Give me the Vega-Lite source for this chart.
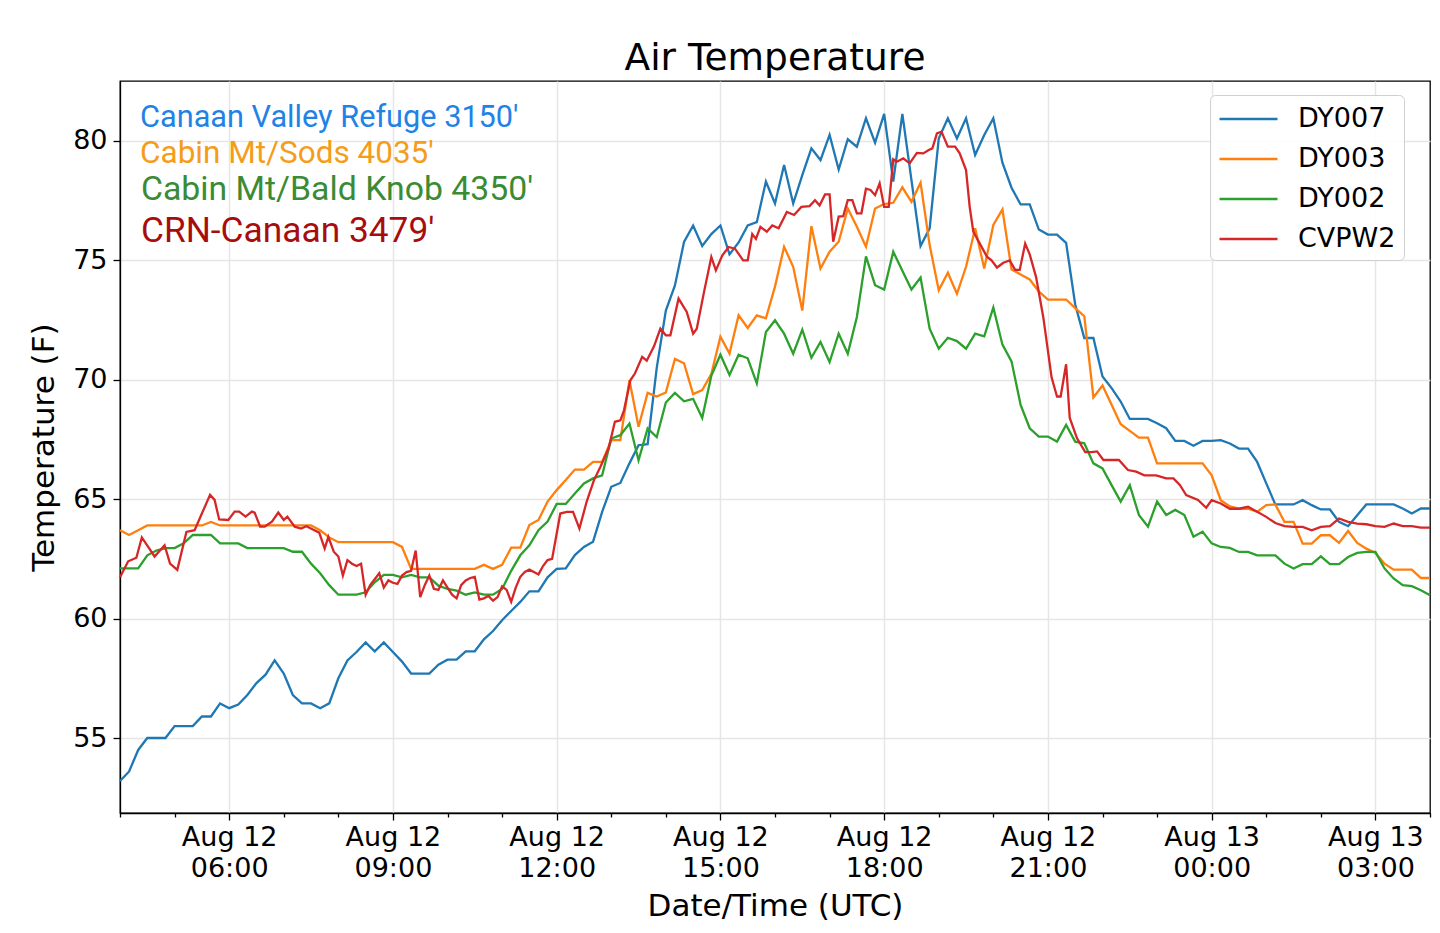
{
"$schema":"https://vega.github.io/schema/vega-lite/v6.json",
"width":1310,"height":732,
"autosize":"none",
"padding":{"left":120,"top":81,"right":10,"bottom":120},
"background":"white",
"title":{"text":"Air Temperature","font":"DejaVu Sans","fontSize":37.5,"fontWeight":"normal","color":"#000","offset":4,"anchor":"middle"},
"config":{"view":{"stroke":"#000","strokeWidth":1.3}},
"datasets":{"obs":[
{"station":"DY007","time":"2019-08-12T04:00Z","temp":53.2},{"station":"DY007","time":"2019-08-12T04:10Z","temp":53.6},{"station":"DY007","time":"2019-08-12T04:20Z","temp":54.5},{"station":"DY007","time":"2019-08-12T04:30Z","temp":55.0},{"station":"DY007","time":"2019-08-12T04:40Z","temp":55.0},{"station":"DY007","time":"2019-08-12T04:50Z","temp":55.0},
{"station":"DY007","time":"2019-08-12T05:00Z","temp":55.5},{"station":"DY007","time":"2019-08-12T05:10Z","temp":55.5},{"station":"DY007","time":"2019-08-12T05:20Z","temp":55.5},{"station":"DY007","time":"2019-08-12T05:30Z","temp":55.9},{"station":"DY007","time":"2019-08-12T05:40Z","temp":55.9},{"station":"DY007","time":"2019-08-12T05:50Z","temp":56.45},
{"station":"DY007","time":"2019-08-12T06:00Z","temp":56.25},{"station":"DY007","time":"2019-08-12T06:10Z","temp":56.4},{"station":"DY007","time":"2019-08-12T06:20Z","temp":56.8},{"station":"DY007","time":"2019-08-12T06:30Z","temp":57.3},{"station":"DY007","time":"2019-08-12T06:40Z","temp":57.65},{"station":"DY007","time":"2019-08-12T06:50Z","temp":58.25},
{"station":"DY007","time":"2019-08-12T07:00Z","temp":57.7},{"station":"DY007","time":"2019-08-12T07:10Z","temp":56.8},{"station":"DY007","time":"2019-08-12T07:20Z","temp":56.45},{"station":"DY007","time":"2019-08-12T07:30Z","temp":56.45},{"station":"DY007","time":"2019-08-12T07:40Z","temp":56.25},{"station":"DY007","time":"2019-08-12T07:50Z","temp":56.45},
{"station":"DY007","time":"2019-08-12T08:00Z","temp":57.5},{"station":"DY007","time":"2019-08-12T08:10Z","temp":58.25},{"station":"DY007","time":"2019-08-12T08:20Z","temp":58.6},{"station":"DY007","time":"2019-08-12T08:30Z","temp":59.0},{"station":"DY007","time":"2019-08-12T08:40Z","temp":58.63},{"station":"DY007","time":"2019-08-12T08:50Z","temp":59.0},
{"station":"DY007","time":"2019-08-12T09:00Z","temp":58.6},{"station":"DY007","time":"2019-08-12T09:10Z","temp":58.2},{"station":"DY007","time":"2019-08-12T09:20Z","temp":57.7},{"station":"DY007","time":"2019-08-12T09:30Z","temp":57.7},{"station":"DY007","time":"2019-08-12T09:40Z","temp":57.7},{"station":"DY007","time":"2019-08-12T09:50Z","temp":58.07},
{"station":"DY007","time":"2019-08-12T10:00Z","temp":58.28},{"station":"DY007","time":"2019-08-12T10:10Z","temp":58.28},{"station":"DY007","time":"2019-08-12T10:20Z","temp":58.63},{"station":"DY007","time":"2019-08-12T10:30Z","temp":58.63},{"station":"DY007","time":"2019-08-12T10:40Z","temp":59.13},{"station":"DY007","time":"2019-08-12T10:50Z","temp":59.48},
{"station":"DY007","time":"2019-08-12T11:00Z","temp":59.93},{"station":"DY007","time":"2019-08-12T11:10Z","temp":60.32},{"station":"DY007","time":"2019-08-12T11:20Z","temp":60.7},{"station":"DY007","time":"2019-08-12T11:30Z","temp":61.14},{"station":"DY007","time":"2019-08-12T11:40Z","temp":61.14},{"station":"DY007","time":"2019-08-12T11:50Z","temp":61.73},
{"station":"DY007","time":"2019-08-12T12:00Z","temp":62.08},{"station":"DY007","time":"2019-08-12T12:10Z","temp":62.1},{"station":"DY007","time":"2019-08-12T12:20Z","temp":62.66},{"station":"DY007","time":"2019-08-12T12:30Z","temp":63.0},{"station":"DY007","time":"2019-08-12T12:40Z","temp":63.22},{"station":"DY007","time":"2019-08-12T12:50Z","temp":64.47},
{"station":"DY007","time":"2019-08-12T13:00Z","temp":65.52},{"station":"DY007","time":"2019-08-12T13:10Z","temp":65.68},{"station":"DY007","time":"2019-08-12T13:20Z","temp":66.5},{"station":"DY007","time":"2019-08-12T13:30Z","temp":67.26},{"station":"DY007","time":"2019-08-12T13:40Z","temp":67.3},{"station":"DY007","time":"2019-08-12T13:50Z","temp":70.5},
{"station":"DY007","time":"2019-08-12T14:00Z","temp":72.9},{"station":"DY007","time":"2019-08-12T14:10Z","temp":73.95},{"station":"DY007","time":"2019-08-12T14:20Z","temp":75.77},{"station":"DY007","time":"2019-08-12T14:30Z","temp":76.46},{"station":"DY007","time":"2019-08-12T14:40Z","temp":75.6},{"station":"DY007","time":"2019-08-12T14:50Z","temp":76.1},
{"station":"DY007","time":"2019-08-12T15:00Z","temp":76.46},{"station":"DY007","time":"2019-08-12T15:10Z","temp":75.25},{"station":"DY007","time":"2019-08-12T15:20Z","temp":75.75},{"station":"DY007","time":"2019-08-12T15:30Z","temp":76.46},{"station":"DY007","time":"2019-08-12T15:40Z","temp":76.6},{"station":"DY007","time":"2019-08-12T15:50Z","temp":78.3},
{"station":"DY007","time":"2019-08-12T16:00Z","temp":77.38},{"station":"DY007","time":"2019-08-12T16:10Z","temp":78.99},{"station":"DY007","time":"2019-08-12T16:20Z","temp":77.38},{"station":"DY007","time":"2019-08-12T16:30Z","temp":78.57},{"station":"DY007","time":"2019-08-12T16:40Z","temp":79.69},{"station":"DY007","time":"2019-08-12T16:50Z","temp":79.2},
{"station":"DY007","time":"2019-08-12T17:00Z","temp":80.25},{"station":"DY007","time":"2019-08-12T17:10Z","temp":78.8},{"station":"DY007","time":"2019-08-12T17:20Z","temp":80.07},{"station":"DY007","time":"2019-08-12T17:30Z","temp":79.76},{"station":"DY007","time":"2019-08-12T17:40Z","temp":80.95},{"station":"DY007","time":"2019-08-12T17:50Z","temp":79.93},
{"station":"DY007","time":"2019-08-12T18:00Z","temp":81.13},{"station":"DY007","time":"2019-08-12T18:10Z","temp":78.3},{"station":"DY007","time":"2019-08-12T18:20Z","temp":81.13},{"station":"DY007","time":"2019-08-12T18:30Z","temp":78.36},{"station":"DY007","time":"2019-08-12T18:40Z","temp":75.6},{"station":"DY007","time":"2019-08-12T18:50Z","temp":76.34},
{"station":"DY007","time":"2019-08-12T19:00Z","temp":80.1},{"station":"DY007","time":"2019-08-12T19:10Z","temp":80.95},{"station":"DY007","time":"2019-08-12T19:20Z","temp":80.1},{"station":"DY007","time":"2019-08-12T19:30Z","temp":80.95},{"station":"DY007","time":"2019-08-12T19:40Z","temp":79.41},{"station":"DY007","time":"2019-08-12T19:50Z","temp":80.25},
{"station":"DY007","time":"2019-08-12T20:00Z","temp":80.95},{"station":"DY007","time":"2019-08-12T20:10Z","temp":79.09},{"station":"DY007","time":"2019-08-12T20:20Z","temp":78.04},{"station":"DY007","time":"2019-08-12T20:30Z","temp":77.34},{"station":"DY007","time":"2019-08-12T20:40Z","temp":77.34},{"station":"DY007","time":"2019-08-12T20:50Z","temp":76.29},
{"station":"DY007","time":"2019-08-12T21:00Z","temp":76.08},{"station":"DY007","time":"2019-08-12T21:10Z","temp":76.08},{"station":"DY007","time":"2019-08-12T21:20Z","temp":75.73},{"station":"DY007","time":"2019-08-12T21:30Z","temp":73.15},{"station":"DY007","time":"2019-08-12T21:40Z","temp":71.75},{"station":"DY007","time":"2019-08-12T21:50Z","temp":71.75},
{"station":"DY007","time":"2019-08-12T22:00Z","temp":70.14},{"station":"DY007","time":"2019-08-12T22:10Z","temp":69.65},{"station":"DY007","time":"2019-08-12T22:20Z","temp":69.09},{"station":"DY007","time":"2019-08-12T22:30Z","temp":68.36},{"station":"DY007","time":"2019-08-12T22:40Z","temp":68.36},{"station":"DY007","time":"2019-08-12T22:50Z","temp":68.36},
{"station":"DY007","time":"2019-08-12T23:00Z","temp":68.18},{"station":"DY007","time":"2019-08-12T23:10Z","temp":67.97},{"station":"DY007","time":"2019-08-12T23:20Z","temp":67.44},{"station":"DY007","time":"2019-08-12T23:30Z","temp":67.44},{"station":"DY007","time":"2019-08-12T23:40Z","temp":67.24},{"station":"DY007","time":"2019-08-12T23:50Z","temp":67.44},
{"station":"DY007","time":"2019-08-13T00:00Z","temp":67.44},{"station":"DY007","time":"2019-08-13T00:10Z","temp":67.47},{"station":"DY007","time":"2019-08-13T00:20Z","temp":67.33},{"station":"DY007","time":"2019-08-13T00:30Z","temp":67.12},{"station":"DY007","time":"2019-08-13T00:40Z","temp":67.12},{"station":"DY007","time":"2019-08-13T00:50Z","temp":66.56},
{"station":"DY007","time":"2019-08-13T01:00Z","temp":65.66},{"station":"DY007","time":"2019-08-13T01:10Z","temp":64.78},{"station":"DY007","time":"2019-08-13T01:20Z","temp":64.78},{"station":"DY007","time":"2019-08-13T01:30Z","temp":64.78},{"station":"DY007","time":"2019-08-13T01:40Z","temp":64.96},{"station":"DY007","time":"2019-08-13T01:50Z","temp":64.75},
{"station":"DY007","time":"2019-08-13T02:00Z","temp":64.57},{"station":"DY007","time":"2019-08-13T02:10Z","temp":64.57},{"station":"DY007","time":"2019-08-13T02:20Z","temp":64.05},{"station":"DY007","time":"2019-08-13T02:30Z","temp":63.87},{"station":"DY007","time":"2019-08-13T02:40Z","temp":64.33},{"station":"DY007","time":"2019-08-13T02:50Z","temp":64.78},
{"station":"DY007","time":"2019-08-13T03:00Z","temp":64.78},{"station":"DY007","time":"2019-08-13T03:10Z","temp":64.78},{"station":"DY007","time":"2019-08-13T03:20Z","temp":64.78},{"station":"DY007","time":"2019-08-13T03:30Z","temp":64.61},{"station":"DY007","time":"2019-08-13T03:40Z","temp":64.4},{"station":"DY007","time":"2019-08-13T03:50Z","temp":64.61},
{"station":"DY007","time":"2019-08-13T04:00Z","temp":64.61},
{"station":"DY003","time":"2019-08-12T04:00Z","temp":63.7},{"station":"DY003","time":"2019-08-12T04:10Z","temp":63.5},{"station":"DY003","time":"2019-08-12T04:20Z","temp":63.7},{"station":"DY003","time":"2019-08-12T04:30Z","temp":63.9},{"station":"DY003","time":"2019-08-12T04:40Z","temp":63.9},{"station":"DY003","time":"2019-08-12T04:50Z","temp":63.9},
{"station":"DY003","time":"2019-08-12T05:00Z","temp":63.9},{"station":"DY003","time":"2019-08-12T05:10Z","temp":63.9},{"station":"DY003","time":"2019-08-12T05:20Z","temp":63.9},{"station":"DY003","time":"2019-08-12T05:30Z","temp":63.9},{"station":"DY003","time":"2019-08-12T05:40Z","temp":64.05},{"station":"DY003","time":"2019-08-12T05:50Z","temp":63.9},
{"station":"DY003","time":"2019-08-12T06:00Z","temp":63.9},{"station":"DY003","time":"2019-08-12T06:10Z","temp":63.9},{"station":"DY003","time":"2019-08-12T06:20Z","temp":63.9},{"station":"DY003","time":"2019-08-12T06:30Z","temp":63.9},{"station":"DY003","time":"2019-08-12T06:40Z","temp":63.9},{"station":"DY003","time":"2019-08-12T06:50Z","temp":63.9},
{"station":"DY003","time":"2019-08-12T07:00Z","temp":63.9},{"station":"DY003","time":"2019-08-12T07:10Z","temp":63.9},{"station":"DY003","time":"2019-08-12T07:20Z","temp":63.9},{"station":"DY003","time":"2019-08-12T07:30Z","temp":63.9},{"station":"DY003","time":"2019-08-12T07:40Z","temp":63.7},{"station":"DY003","time":"2019-08-12T07:50Z","temp":63.4},
{"station":"DY003","time":"2019-08-12T08:00Z","temp":63.2},{"station":"DY003","time":"2019-08-12T08:10Z","temp":63.2},{"station":"DY003","time":"2019-08-12T08:20Z","temp":63.2},{"station":"DY003","time":"2019-08-12T08:30Z","temp":63.2},{"station":"DY003","time":"2019-08-12T08:40Z","temp":63.2},{"station":"DY003","time":"2019-08-12T08:50Z","temp":63.2},
{"station":"DY003","time":"2019-08-12T09:00Z","temp":63.2},{"station":"DY003","time":"2019-08-12T09:10Z","temp":63.0},{"station":"DY003","time":"2019-08-12T09:20Z","temp":62.08},{"station":"DY003","time":"2019-08-12T09:30Z","temp":62.08},{"station":"DY003","time":"2019-08-12T09:40Z","temp":62.08},{"station":"DY003","time":"2019-08-12T09:50Z","temp":62.08},
{"station":"DY003","time":"2019-08-12T10:00Z","temp":62.08},{"station":"DY003","time":"2019-08-12T10:10Z","temp":62.08},{"station":"DY003","time":"2019-08-12T10:20Z","temp":62.08},{"station":"DY003","time":"2019-08-12T10:30Z","temp":62.08},{"station":"DY003","time":"2019-08-12T10:40Z","temp":62.25},{"station":"DY003","time":"2019-08-12T10:50Z","temp":62.08},
{"station":"DY003","time":"2019-08-12T11:00Z","temp":62.25},{"station":"DY003","time":"2019-08-12T11:10Z","temp":62.97},{"station":"DY003","time":"2019-08-12T11:20Z","temp":62.97},{"station":"DY003","time":"2019-08-12T11:30Z","temp":63.92},{"station":"DY003","time":"2019-08-12T11:40Z","temp":64.13},{"station":"DY003","time":"2019-08-12T11:50Z","temp":64.9},
{"station":"DY003","time":"2019-08-12T12:00Z","temp":65.38},{"station":"DY003","time":"2019-08-12T12:10Z","temp":65.8},{"station":"DY003","time":"2019-08-12T12:20Z","temp":66.24},{"station":"DY003","time":"2019-08-12T12:30Z","temp":66.24},{"station":"DY003","time":"2019-08-12T12:40Z","temp":66.56},{"station":"DY003","time":"2019-08-12T12:50Z","temp":66.56},
{"station":"DY003","time":"2019-08-12T13:00Z","temp":67.47},{"station":"DY003","time":"2019-08-12T13:10Z","temp":67.47},{"station":"DY003","time":"2019-08-12T13:20Z","temp":69.98},{"station":"DY003","time":"2019-08-12T13:30Z","temp":68.03},{"station":"DY003","time":"2019-08-12T13:40Z","temp":69.45},{"station":"DY003","time":"2019-08-12T13:50Z","temp":69.3},
{"station":"DY003","time":"2019-08-12T14:00Z","temp":69.47},{"station":"DY003","time":"2019-08-12T14:10Z","temp":70.87},{"station":"DY003","time":"2019-08-12T14:20Z","temp":70.69},{"station":"DY003","time":"2019-08-12T14:30Z","temp":69.4},{"station":"DY003","time":"2019-08-12T14:40Z","temp":69.57},{"station":"DY003","time":"2019-08-12T14:50Z","temp":70.24},
{"station":"DY003","time":"2019-08-12T15:00Z","temp":71.8},{"station":"DY003","time":"2019-08-12T15:10Z","temp":71.1},{"station":"DY003","time":"2019-08-12T15:20Z","temp":72.7},{"station":"DY003","time":"2019-08-12T15:30Z","temp":72.17},{"station":"DY003","time":"2019-08-12T15:40Z","temp":72.7},{"station":"DY003","time":"2019-08-12T15:50Z","temp":72.57},
{"station":"DY003","time":"2019-08-12T16:00Z","temp":73.9},{"station":"DY003","time":"2019-08-12T16:10Z","temp":75.57},{"station":"DY003","time":"2019-08-12T16:20Z","temp":74.73},{"station":"DY003","time":"2019-08-12T16:30Z","temp":72.9},{"station":"DY003","time":"2019-08-12T16:40Z","temp":76.43},{"station":"DY003","time":"2019-08-12T16:50Z","temp":74.66},
{"station":"DY003","time":"2019-08-12T17:00Z","temp":75.36},{"station":"DY003","time":"2019-08-12T17:10Z","temp":75.78},{"station":"DY003","time":"2019-08-12T17:20Z","temp":77.17},{"station":"DY003","time":"2019-08-12T17:30Z","temp":76.41},{"station":"DY003","time":"2019-08-12T17:40Z","temp":75.57},{"station":"DY003","time":"2019-08-12T17:50Z","temp":77.17},
{"station":"DY003","time":"2019-08-12T18:00Z","temp":77.36},{"station":"DY003","time":"2019-08-12T18:10Z","temp":77.41},{"station":"DY003","time":"2019-08-12T18:20Z","temp":78.06},{"station":"DY003","time":"2019-08-12T18:30Z","temp":77.45},{"station":"DY003","time":"2019-08-12T18:40Z","temp":78.25},{"station":"DY003","time":"2019-08-12T18:50Z","temp":75.64},
{"station":"DY003","time":"2019-08-12T19:00Z","temp":73.75},{"station":"DY003","time":"2019-08-12T19:10Z","temp":74.48},{"station":"DY003","time":"2019-08-12T19:20Z","temp":73.6},{"station":"DY003","time":"2019-08-12T19:30Z","temp":74.73},{"station":"DY003","time":"2019-08-12T19:40Z","temp":76.34},{"station":"DY003","time":"2019-08-12T19:50Z","temp":74.66},
{"station":"DY003","time":"2019-08-12T20:00Z","temp":76.48},{"station":"DY003","time":"2019-08-12T20:10Z","temp":77.13},{"station":"DY003","time":"2019-08-12T20:20Z","temp":74.62},{"station":"DY003","time":"2019-08-12T20:30Z","temp":74.41},{"station":"DY003","time":"2019-08-12T20:40Z","temp":74.2},{"station":"DY003","time":"2019-08-12T20:50Z","temp":73.7},
{"station":"DY003","time":"2019-08-12T21:00Z","temp":73.36},{"station":"DY003","time":"2019-08-12T21:10Z","temp":73.36},{"station":"DY003","time":"2019-08-12T21:20Z","temp":73.36},{"station":"DY003","time":"2019-08-12T21:30Z","temp":73.0},{"station":"DY003","time":"2019-08-12T21:40Z","temp":72.66},{"station":"DY003","time":"2019-08-12T21:50Z","temp":69.26},
{"station":"DY003","time":"2019-08-12T22:00Z","temp":69.76},{"station":"DY003","time":"2019-08-12T22:10Z","temp":68.95},{"station":"DY003","time":"2019-08-12T22:20Z","temp":68.14},{"station":"DY003","time":"2019-08-12T22:30Z","temp":67.86},{"station":"DY003","time":"2019-08-12T22:40Z","temp":67.58},{"station":"DY003","time":"2019-08-12T22:50Z","temp":67.58},
{"station":"DY003","time":"2019-08-12T23:00Z","temp":66.5},{"station":"DY003","time":"2019-08-12T23:10Z","temp":66.5},{"station":"DY003","time":"2019-08-12T23:20Z","temp":66.5},{"station":"DY003","time":"2019-08-12T23:30Z","temp":66.5},{"station":"DY003","time":"2019-08-12T23:40Z","temp":66.5},{"station":"DY003","time":"2019-08-12T23:50Z","temp":66.5},
{"station":"DY003","time":"2019-08-13T00:00Z","temp":66.0},{"station":"DY003","time":"2019-08-13T00:10Z","temp":64.96},{"station":"DY003","time":"2019-08-13T00:20Z","temp":64.7},{"station":"DY003","time":"2019-08-13T00:30Z","temp":64.6},{"station":"DY003","time":"2019-08-13T00:40Z","temp":64.6},{"station":"DY003","time":"2019-08-13T00:50Z","temp":64.47},
{"station":"DY003","time":"2019-08-13T01:00Z","temp":64.75},{"station":"DY003","time":"2019-08-13T01:10Z","temp":64.78},{"station":"DY003","time":"2019-08-13T01:20Z","temp":64.05},{"station":"DY003","time":"2019-08-13T01:30Z","temp":64.05},{"station":"DY003","time":"2019-08-13T01:40Z","temp":63.14},{"station":"DY003","time":"2019-08-13T01:50Z","temp":63.14},
{"station":"DY003","time":"2019-08-13T02:00Z","temp":63.49},{"station":"DY003","time":"2019-08-13T02:10Z","temp":63.49},{"station":"DY003","time":"2019-08-13T02:20Z","temp":63.17},{"station":"DY003","time":"2019-08-13T02:30Z","temp":63.67},{"station":"DY003","time":"2019-08-13T02:40Z","temp":63.17},{"station":"DY003","time":"2019-08-13T02:50Z","temp":62.93},
{"station":"DY003","time":"2019-08-13T03:00Z","temp":62.75},{"station":"DY003","time":"2019-08-13T03:10Z","temp":62.3},{"station":"DY003","time":"2019-08-13T03:20Z","temp":62.05},{"station":"DY003","time":"2019-08-13T03:30Z","temp":62.05},{"station":"DY003","time":"2019-08-13T03:40Z","temp":62.05},{"station":"DY003","time":"2019-08-13T03:50Z","temp":61.7},
{"station":"DY003","time":"2019-08-13T04:00Z","temp":61.7},
{"station":"DY002","time":"2019-08-12T04:00Z","temp":62.1},{"station":"DY002","time":"2019-08-12T04:10Z","temp":62.1},{"station":"DY002","time":"2019-08-12T04:20Z","temp":62.1},{"station":"DY002","time":"2019-08-12T04:30Z","temp":62.65},{"station":"DY002","time":"2019-08-12T04:40Z","temp":62.85},{"station":"DY002","time":"2019-08-12T04:50Z","temp":62.95},
{"station":"DY002","time":"2019-08-12T05:00Z","temp":62.95},{"station":"DY002","time":"2019-08-12T05:10Z","temp":63.15},{"station":"DY002","time":"2019-08-12T05:20Z","temp":63.5},{"station":"DY002","time":"2019-08-12T05:30Z","temp":63.5},{"station":"DY002","time":"2019-08-12T05:40Z","temp":63.5},{"station":"DY002","time":"2019-08-12T05:50Z","temp":63.15},
{"station":"DY002","time":"2019-08-12T06:00Z","temp":63.15},{"station":"DY002","time":"2019-08-12T06:10Z","temp":63.15},{"station":"DY002","time":"2019-08-12T06:20Z","temp":62.95},{"station":"DY002","time":"2019-08-12T06:30Z","temp":62.95},{"station":"DY002","time":"2019-08-12T06:40Z","temp":62.95},{"station":"DY002","time":"2019-08-12T06:50Z","temp":62.95},
{"station":"DY002","time":"2019-08-12T07:00Z","temp":62.95},{"station":"DY002","time":"2019-08-12T07:10Z","temp":62.8},{"station":"DY002","time":"2019-08-12T07:20Z","temp":62.8},{"station":"DY002","time":"2019-08-12T07:30Z","temp":62.3},{"station":"DY002","time":"2019-08-12T07:40Z","temp":61.9},{"station":"DY002","time":"2019-08-12T07:50Z","temp":61.4},
{"station":"DY002","time":"2019-08-12T08:00Z","temp":61.0},{"station":"DY002","time":"2019-08-12T08:10Z","temp":61.0},{"station":"DY002","time":"2019-08-12T08:20Z","temp":61.0},{"station":"DY002","time":"2019-08-12T08:30Z","temp":61.1},{"station":"DY002","time":"2019-08-12T08:40Z","temp":61.52},{"station":"DY002","time":"2019-08-12T08:50Z","temp":61.83},
{"station":"DY002","time":"2019-08-12T09:00Z","temp":61.83},{"station":"DY002","time":"2019-08-12T09:10Z","temp":61.73},{"station":"DY002","time":"2019-08-12T09:20Z","temp":61.83},{"station":"DY002","time":"2019-08-12T09:30Z","temp":61.73},{"station":"DY002","time":"2019-08-12T09:40Z","temp":61.73},{"station":"DY002","time":"2019-08-12T09:50Z","temp":61.38},
{"station":"DY002","time":"2019-08-12T10:00Z","temp":61.24},{"station":"DY002","time":"2019-08-12T10:10Z","temp":61.17},{"station":"DY002","time":"2019-08-12T10:20Z","temp":61.0},{"station":"DY002","time":"2019-08-12T10:30Z","temp":61.1},{"station":"DY002","time":"2019-08-12T10:40Z","temp":61.0},{"station":"DY002","time":"2019-08-12T10:50Z","temp":61.0},
{"station":"DY002","time":"2019-08-12T11:00Z","temp":61.24},{"station":"DY002","time":"2019-08-12T11:10Z","temp":62.0},{"station":"DY002","time":"2019-08-12T11:20Z","temp":62.65},{"station":"DY002","time":"2019-08-12T11:30Z","temp":63.07},{"station":"DY002","time":"2019-08-12T11:40Z","temp":63.7},{"station":"DY002","time":"2019-08-12T11:50Z","temp":64.06},
{"station":"DY002","time":"2019-08-12T12:00Z","temp":64.8},{"station":"DY002","time":"2019-08-12T12:10Z","temp":64.8},{"station":"DY002","time":"2019-08-12T12:20Z","temp":65.24},{"station":"DY002","time":"2019-08-12T12:30Z","temp":65.66},{"station":"DY002","time":"2019-08-12T12:40Z","temp":65.87},{"station":"DY002","time":"2019-08-12T12:50Z","temp":66.0},
{"station":"DY002","time":"2019-08-12T13:00Z","temp":67.54},{"station":"DY002","time":"2019-08-12T13:10Z","temp":67.68},{"station":"DY002","time":"2019-08-12T13:20Z","temp":68.17},{"station":"DY002","time":"2019-08-12T13:30Z","temp":66.63},{"station":"DY002","time":"2019-08-12T13:40Z","temp":67.96},{"station":"DY002","time":"2019-08-12T13:50Z","temp":67.6},
{"station":"DY002","time":"2019-08-12T14:00Z","temp":69.05},{"station":"DY002","time":"2019-08-12T14:10Z","temp":69.45},{"station":"DY002","time":"2019-08-12T14:20Z","temp":69.1},{"station":"DY002","time":"2019-08-12T14:30Z","temp":69.2},{"station":"DY002","time":"2019-08-12T14:40Z","temp":68.4},{"station":"DY002","time":"2019-08-12T14:50Z","temp":70.17},
{"station":"DY002","time":"2019-08-12T15:00Z","temp":71.05},{"station":"DY002","time":"2019-08-12T15:10Z","temp":70.2},{"station":"DY002","time":"2019-08-12T15:20Z","temp":71.05},{"station":"DY002","time":"2019-08-12T15:30Z","temp":70.9},{"station":"DY002","time":"2019-08-12T15:40Z","temp":69.85},{"station":"DY002","time":"2019-08-12T15:50Z","temp":72.0},
{"station":"DY002","time":"2019-08-12T16:00Z","temp":72.49},{"station":"DY002","time":"2019-08-12T16:10Z","temp":71.93},{"station":"DY002","time":"2019-08-12T16:20Z","temp":71.09},{"station":"DY002","time":"2019-08-12T16:30Z","temp":72.1},{"station":"DY002","time":"2019-08-12T16:40Z","temp":70.92},{"station":"DY002","time":"2019-08-12T16:50Z","temp":71.58},
{"station":"DY002","time":"2019-08-12T17:00Z","temp":70.74},{"station":"DY002","time":"2019-08-12T17:10Z","temp":71.93},{"station":"DY002","time":"2019-08-12T17:20Z","temp":71.09},{"station":"DY002","time":"2019-08-12T17:30Z","temp":72.63},{"station":"DY002","time":"2019-08-12T17:40Z","temp":75.17},{"station":"DY002","time":"2019-08-12T17:50Z","temp":73.96},
{"station":"DY002","time":"2019-08-12T18:00Z","temp":73.78},{"station":"DY002","time":"2019-08-12T18:10Z","temp":75.36},{"station":"DY002","time":"2019-08-12T18:20Z","temp":74.56},{"station":"DY002","time":"2019-08-12T18:30Z","temp":73.78},{"station":"DY002","time":"2019-08-12T18:40Z","temp":74.28},{"station":"DY002","time":"2019-08-12T18:50Z","temp":72.14},
{"station":"DY002","time":"2019-08-12T19:00Z","temp":71.3},{"station":"DY002","time":"2019-08-12T19:10Z","temp":71.76},{"station":"DY002","time":"2019-08-12T19:20Z","temp":71.62},{"station":"DY002","time":"2019-08-12T19:30Z","temp":71.3},{"station":"DY002","time":"2019-08-12T19:40Z","temp":71.93},{"station":"DY002","time":"2019-08-12T19:50Z","temp":71.82},
{"station":"DY002","time":"2019-08-12T20:00Z","temp":73.03},{"station":"DY002","time":"2019-08-12T20:10Z","temp":71.47},{"station":"DY002","time":"2019-08-12T20:20Z","temp":70.77},{"station":"DY002","time":"2019-08-12T20:30Z","temp":68.95},{"station":"DY002","time":"2019-08-12T20:40Z","temp":67.97},{"station":"DY002","time":"2019-08-12T20:50Z","temp":67.62},
{"station":"DY002","time":"2019-08-12T21:00Z","temp":67.62},{"station":"DY002","time":"2019-08-12T21:10Z","temp":67.41},{"station":"DY002","time":"2019-08-12T21:20Z","temp":68.11},{"station":"DY002","time":"2019-08-12T21:30Z","temp":67.41},{"station":"DY002","time":"2019-08-12T21:40Z","temp":67.34},{"station":"DY002","time":"2019-08-12T21:50Z","temp":66.5},
{"station":"DY002","time":"2019-08-12T22:00Z","temp":66.29},{"station":"DY002","time":"2019-08-12T22:10Z","temp":65.59},{"station":"DY002","time":"2019-08-12T22:20Z","temp":64.9},{"station":"DY002","time":"2019-08-12T22:30Z","temp":65.59},{"station":"DY002","time":"2019-08-12T22:40Z","temp":64.34},{"station":"DY002","time":"2019-08-12T22:50Z","temp":63.85},
{"station":"DY002","time":"2019-08-12T23:00Z","temp":64.9},{"station":"DY002","time":"2019-08-12T23:10Z","temp":64.34},{"station":"DY002","time":"2019-08-12T23:20Z","temp":64.55},{"station":"DY002","time":"2019-08-12T23:30Z","temp":64.34},{"station":"DY002","time":"2019-08-12T23:40Z","temp":63.43},{"station":"DY002","time":"2019-08-12T23:50Z","temp":63.64},
{"station":"DY002","time":"2019-08-13T00:00Z","temp":63.15},{"station":"DY002","time":"2019-08-13T00:10Z","temp":63.0},{"station":"DY002","time":"2019-08-13T00:20Z","temp":62.96},{"station":"DY002","time":"2019-08-13T00:30Z","temp":62.79},{"station":"DY002","time":"2019-08-13T00:40Z","temp":62.79},{"station":"DY002","time":"2019-08-13T00:50Z","temp":62.65},
{"station":"DY002","time":"2019-08-13T01:00Z","temp":62.65},{"station":"DY002","time":"2019-08-13T01:10Z","temp":62.65},{"station":"DY002","time":"2019-08-13T01:20Z","temp":62.3},{"station":"DY002","time":"2019-08-13T01:30Z","temp":62.1},{"station":"DY002","time":"2019-08-13T01:40Z","temp":62.28},{"station":"DY002","time":"2019-08-13T01:50Z","temp":62.28},
{"station":"DY002","time":"2019-08-13T02:00Z","temp":62.61},{"station":"DY002","time":"2019-08-13T02:10Z","temp":62.28},{"station":"DY002","time":"2019-08-13T02:20Z","temp":62.28},{"station":"DY002","time":"2019-08-13T02:30Z","temp":62.58},{"station":"DY002","time":"2019-08-13T02:40Z","temp":62.75},{"station":"DY002","time":"2019-08-13T02:50Z","temp":62.79},
{"station":"DY002","time":"2019-08-13T03:00Z","temp":62.79},{"station":"DY002","time":"2019-08-13T03:10Z","temp":62.1},{"station":"DY002","time":"2019-08-13T03:20Z","temp":61.68},{"station":"DY002","time":"2019-08-13T03:30Z","temp":61.4},{"station":"DY002","time":"2019-08-13T03:40Z","temp":61.36},{"station":"DY002","time":"2019-08-13T03:50Z","temp":61.19},
{"station":"DY002","time":"2019-08-13T04:00Z","temp":60.98},
{"station":"CVPW2","time":"2019-08-12T04:00Z","temp":61.73},{"station":"CVPW2","time":"2019-08-12T04:09Z","temp":62.4},{"station":"CVPW2","time":"2019-08-12T04:18Z","temp":62.55},{"station":"CVPW2","time":"2019-08-12T04:24Z","temp":63.4},{"station":"CVPW2","time":"2019-08-12T04:31Z","temp":63.0},{"station":"CVPW2","time":"2019-08-12T04:38Z","temp":62.6},
{"station":"CVPW2","time":"2019-08-12T04:49Z","temp":63.07},{"station":"CVPW2","time":"2019-08-12T04:55Z","temp":62.3},{"station":"CVPW2","time":"2019-08-12T05:03Z","temp":62.04},{"station":"CVPW2","time":"2019-08-12T05:13Z","temp":63.63},{"station":"CVPW2","time":"2019-08-12T05:22Z","temp":63.7},{"station":"CVPW2","time":"2019-08-12T05:30Z","temp":64.4},
{"station":"CVPW2","time":"2019-08-12T05:39Z","temp":65.18},{"station":"CVPW2","time":"2019-08-12T05:44Z","temp":64.97},{"station":"CVPW2","time":"2019-08-12T05:49Z","temp":64.15},{"station":"CVPW2","time":"2019-08-12T05:59Z","temp":64.13},{"station":"CVPW2","time":"2019-08-12T06:06Z","temp":64.48},{"station":"CVPW2","time":"2019-08-12T06:11Z","temp":64.48},
{"station":"CVPW2","time":"2019-08-12T06:18Z","temp":64.27},{"station":"CVPW2","time":"2019-08-12T06:25Z","temp":64.48},{"station":"CVPW2","time":"2019-08-12T06:28Z","temp":64.44},{"station":"CVPW2","time":"2019-08-12T06:34Z","temp":63.85},{"station":"CVPW2","time":"2019-08-12T06:39Z","temp":63.85},{"station":"CVPW2","time":"2019-08-12T06:47Z","temp":64.06},
{"station":"CVPW2","time":"2019-08-12T06:54Z","temp":64.44},{"station":"CVPW2","time":"2019-08-12T07:00Z","temp":64.13},{"station":"CVPW2","time":"2019-08-12T07:04Z","temp":64.27},{"station":"CVPW2","time":"2019-08-12T07:12Z","temp":63.85},{"station":"CVPW2","time":"2019-08-12T07:19Z","temp":63.77},{"station":"CVPW2","time":"2019-08-12T07:25Z","temp":63.87},
{"station":"CVPW2","time":"2019-08-12T07:32Z","temp":63.73},{"station":"CVPW2","time":"2019-08-12T07:39Z","temp":63.6},{"station":"CVPW2","time":"2019-08-12T07:45Z","temp":62.93},{"station":"CVPW2","time":"2019-08-12T07:49Z","temp":63.42},{"station":"CVPW2","time":"2019-08-12T07:55Z","temp":62.8},{"station":"CVPW2","time":"2019-08-12T08:00Z","temp":62.6},
{"station":"CVPW2","time":"2019-08-12T08:05Z","temp":61.8},{"station":"CVPW2","time":"2019-08-12T08:10Z","temp":62.45},{"station":"CVPW2","time":"2019-08-12T08:15Z","temp":62.3},{"station":"CVPW2","time":"2019-08-12T08:20Z","temp":62.2},{"station":"CVPW2","time":"2019-08-12T08:25Z","temp":62.3},{"station":"CVPW2","time":"2019-08-12T08:30Z","temp":61.0},
{"station":"CVPW2","time":"2019-08-12T08:35Z","temp":61.4},{"station":"CVPW2","time":"2019-08-12T08:45Z","temp":61.9},{"station":"CVPW2","time":"2019-08-12T08:50Z","temp":61.3},{"station":"CVPW2","time":"2019-08-12T08:55Z","temp":61.6},{"station":"CVPW2","time":"2019-08-12T09:00Z","temp":61.5},{"station":"CVPW2","time":"2019-08-12T09:05Z","temp":61.45},
{"station":"CVPW2","time":"2019-08-12T09:10Z","temp":61.8},{"station":"CVPW2","time":"2019-08-12T09:15Z","temp":61.95},{"station":"CVPW2","time":"2019-08-12T09:20Z","temp":62.0},{"station":"CVPW2","time":"2019-08-12T09:25Z","temp":62.85},{"station":"CVPW2","time":"2019-08-12T09:30Z","temp":60.9},{"station":"CVPW2","time":"2019-08-12T09:35Z","temp":61.4},
{"station":"CVPW2","time":"2019-08-12T09:40Z","temp":61.8},{"station":"CVPW2","time":"2019-08-12T09:45Z","temp":61.25},{"station":"CVPW2","time":"2019-08-12T09:50Z","temp":61.2},{"station":"CVPW2","time":"2019-08-12T09:55Z","temp":61.6},{"station":"CVPW2","time":"2019-08-12T10:00Z","temp":61.3},{"station":"CVPW2","time":"2019-08-12T10:05Z","temp":61.0},
{"station":"CVPW2","time":"2019-08-12T10:10Z","temp":60.85},{"station":"CVPW2","time":"2019-08-12T10:15Z","temp":61.4},{"station":"CVPW2","time":"2019-08-12T10:20Z","temp":61.6},{"station":"CVPW2","time":"2019-08-12T10:25Z","temp":61.7},{"station":"CVPW2","time":"2019-08-12T10:30Z","temp":61.75},{"station":"CVPW2","time":"2019-08-12T10:35Z","temp":60.8},
{"station":"CVPW2","time":"2019-08-12T10:40Z","temp":60.85},{"station":"CVPW2","time":"2019-08-12T10:45Z","temp":60.95},{"station":"CVPW2","time":"2019-08-12T10:50Z","temp":60.75},{"station":"CVPW2","time":"2019-08-12T10:55Z","temp":60.9},{"station":"CVPW2","time":"2019-08-12T11:00Z","temp":61.35},{"station":"CVPW2","time":"2019-08-12T11:05Z","temp":61.2},
{"station":"CVPW2","time":"2019-08-12T11:10Z","temp":60.7},{"station":"CVPW2","time":"2019-08-12T11:15Z","temp":61.3},{"station":"CVPW2","time":"2019-08-12T11:20Z","temp":61.75},{"station":"CVPW2","time":"2019-08-12T11:25Z","temp":61.95},{"station":"CVPW2","time":"2019-08-12T11:30Z","temp":62.05},{"station":"CVPW2","time":"2019-08-12T11:35Z","temp":61.95},
{"station":"CVPW2","time":"2019-08-12T11:40Z","temp":61.85},{"station":"CVPW2","time":"2019-08-12T11:45Z","temp":62.2},{"station":"CVPW2","time":"2019-08-12T11:50Z","temp":62.45},{"station":"CVPW2","time":"2019-08-12T11:55Z","temp":62.5},{"station":"CVPW2","time":"2019-08-12T12:04Z","temp":64.4},{"station":"CVPW2","time":"2019-08-12T12:11Z","temp":64.47},
{"station":"CVPW2","time":"2019-08-12T12:18Z","temp":64.47},{"station":"CVPW2","time":"2019-08-12T12:25Z","temp":63.77},{"station":"CVPW2","time":"2019-08-12T12:33Z","temp":64.9},{"station":"CVPW2","time":"2019-08-12T12:41Z","temp":65.8},{"station":"CVPW2","time":"2019-08-12T12:48Z","temp":66.35},{"station":"CVPW2","time":"2019-08-12T12:57Z","temp":67.12},
{"station":"CVPW2","time":"2019-08-12T13:04Z","temp":68.24},{"station":"CVPW2","time":"2019-08-12T13:10Z","temp":68.3},{"station":"CVPW2","time":"2019-08-12T13:14Z","temp":68.72},{"station":"CVPW2","time":"2019-08-12T13:21Z","temp":69.98},{"station":"CVPW2","time":"2019-08-12T13:26Z","temp":70.26},{"station":"CVPW2","time":"2019-08-12T13:34Z","temp":70.96},
{"station":"CVPW2","time":"2019-08-12T13:39Z","temp":70.8},{"station":"CVPW2","time":"2019-08-12T13:47Z","temp":71.4},{"station":"CVPW2","time":"2019-08-12T13:54Z","temp":72.14},{"station":"CVPW2","time":"2019-08-12T14:00Z","temp":71.86},{"station":"CVPW2","time":"2019-08-12T14:05Z","temp":71.86},{"station":"CVPW2","time":"2019-08-12T14:14Z","temp":73.4},
{"station":"CVPW2","time":"2019-08-12T14:23Z","temp":72.84},{"station":"CVPW2","time":"2019-08-12T14:30Z","temp":71.93},{"station":"CVPW2","time":"2019-08-12T14:34Z","temp":72.14},{"station":"CVPW2","time":"2019-08-12T14:42Z","temp":73.68},{"station":"CVPW2","time":"2019-08-12T14:50Z","temp":75.14},{"station":"CVPW2","time":"2019-08-12T14:55Z","temp":74.58},
{"station":"CVPW2","time":"2019-08-12T15:02Z","temp":75.2},{"station":"CVPW2","time":"2019-08-12T15:09Z","temp":75.56},{"station":"CVPW2","time":"2019-08-12T15:16Z","temp":75.49},{"station":"CVPW2","time":"2019-08-12T15:25Z","temp":75.0},{"station":"CVPW2","time":"2019-08-12T15:30Z","temp":75.0},{"station":"CVPW2","time":"2019-08-12T15:35Z","temp":76.1},
{"station":"CVPW2","time":"2019-08-12T15:39Z","temp":75.9},{"station":"CVPW2","time":"2019-08-12T15:44Z","temp":76.4},{"station":"CVPW2","time":"2019-08-12T15:51Z","temp":76.2},{"station":"CVPW2","time":"2019-08-12T15:57Z","temp":76.46},{"station":"CVPW2","time":"2019-08-12T16:04Z","temp":76.34},{"station":"CVPW2","time":"2019-08-12T16:13Z","temp":77.03},
{"station":"CVPW2","time":"2019-08-12T16:21Z","temp":76.9},{"station":"CVPW2","time":"2019-08-12T16:29Z","temp":77.24},{"station":"CVPW2","time":"2019-08-12T16:38Z","temp":77.27},{"station":"CVPW2","time":"2019-08-12T16:44Z","temp":77.52},{"station":"CVPW2","time":"2019-08-12T16:49Z","temp":77.3},{"station":"CVPW2","time":"2019-08-12T16:55Z","temp":77.76},
{"station":"CVPW2","time":"2019-08-12T17:00Z","temp":77.76},{"station":"CVPW2","time":"2019-08-12T17:04Z","temp":75.78},{"station":"CVPW2","time":"2019-08-12T17:10Z","temp":76.83},{"station":"CVPW2","time":"2019-08-12T17:15Z","temp":76.85},{"station":"CVPW2","time":"2019-08-12T17:20Z","temp":77.52},{"station":"CVPW2","time":"2019-08-12T17:25Z","temp":77.52},
{"station":"CVPW2","time":"2019-08-12T17:30Z","temp":76.97},{"station":"CVPW2","time":"2019-08-12T17:35Z","temp":76.97},{"station":"CVPW2","time":"2019-08-12T17:40Z","temp":78.0},{"station":"CVPW2","time":"2019-08-12T17:45Z","temp":77.95},{"station":"CVPW2","time":"2019-08-12T17:50Z","temp":77.73},{"station":"CVPW2","time":"2019-08-12T17:55Z","temp":78.22},
{"station":"CVPW2","time":"2019-08-12T18:00Z","temp":77.24},{"station":"CVPW2","time":"2019-08-12T18:05Z","temp":77.24},{"station":"CVPW2","time":"2019-08-12T18:10Z","temp":79.23},{"station":"CVPW2","time":"2019-08-12T18:14Z","temp":79.13},{"station":"CVPW2","time":"2019-08-12T18:21Z","temp":79.27},{"station":"CVPW2","time":"2019-08-12T18:28Z","temp":79.06},
{"station":"CVPW2","time":"2019-08-12T18:36Z","temp":79.5},{"station":"CVPW2","time":"2019-08-12T18:43Z","temp":79.48},{"station":"CVPW2","time":"2019-08-12T18:49Z","temp":79.62},{"station":"CVPW2","time":"2019-08-12T18:53Z","temp":79.69},{"station":"CVPW2","time":"2019-08-12T18:58Z","temp":80.32},{"station":"CVPW2","time":"2019-08-12T19:03Z","temp":80.39},
{"station":"CVPW2","time":"2019-08-12T19:10Z","temp":79.76},{"station":"CVPW2","time":"2019-08-12T19:18Z","temp":79.76},{"station":"CVPW2","time":"2019-08-12T19:23Z","temp":79.48},{"station":"CVPW2","time":"2019-08-12T19:30Z","temp":78.78},{"station":"CVPW2","time":"2019-08-12T19:34Z","temp":77.24},{"station":"CVPW2","time":"2019-08-12T19:38Z","temp":76.2},
{"station":"CVPW2","time":"2019-08-12T19:45Z","temp":75.71},{"station":"CVPW2","time":"2019-08-12T19:53Z","temp":75.15},{"station":"CVPW2","time":"2019-08-12T19:58Z","temp":75.0},{"station":"CVPW2","time":"2019-08-12T20:04Z","temp":74.7},{"station":"CVPW2","time":"2019-08-12T20:11Z","temp":74.9},{"station":"CVPW2","time":"2019-08-12T20:18Z","temp":75.0},
{"station":"CVPW2","time":"2019-08-12T20:24Z","temp":74.6},{"station":"CVPW2","time":"2019-08-12T20:29Z","temp":74.6},{"station":"CVPW2","time":"2019-08-12T20:35Z","temp":75.7},{"station":"CVPW2","time":"2019-08-12T20:40Z","temp":75.25},{"station":"CVPW2","time":"2019-08-12T20:47Z","temp":74.3},{"station":"CVPW2","time":"2019-08-12T20:55Z","temp":72.6},
{"station":"CVPW2","time":"2019-08-12T21:04Z","temp":70.1},{"station":"CVPW2","time":"2019-08-12T21:10Z","temp":69.3},{"station":"CVPW2","time":"2019-08-12T21:14Z","temp":69.3},{"station":"CVPW2","time":"2019-08-12T21:20Z","temp":70.65},{"station":"CVPW2","time":"2019-08-12T21:24Z","temp":68.4},{"station":"CVPW2","time":"2019-08-12T21:32Z","temp":67.55},
{"station":"CVPW2","time":"2019-08-12T21:41Z","temp":66.97},{"station":"CVPW2","time":"2019-08-12T21:48Z","temp":66.97},{"station":"CVPW2","time":"2019-08-12T21:54Z","temp":67.0},{"station":"CVPW2","time":"2019-08-12T22:01Z","temp":66.64},{"station":"CVPW2","time":"2019-08-12T22:18Z","temp":66.64},{"station":"CVPW2","time":"2019-08-12T22:28Z","temp":66.22},
{"station":"CVPW2","time":"2019-08-12T22:37Z","temp":66.15},{"station":"CVPW2","time":"2019-08-12T22:46Z","temp":66.0},{"station":"CVPW2","time":"2019-08-12T22:59Z","temp":66.0},{"station":"CVPW2","time":"2019-08-12T23:10Z","temp":65.87},{"station":"CVPW2","time":"2019-08-12T23:18Z","temp":65.87},{"station":"CVPW2","time":"2019-08-12T23:25Z","temp":65.6},
{"station":"CVPW2","time":"2019-08-12T23:32Z","temp":65.17},{"station":"CVPW2","time":"2019-08-12T23:45Z","temp":64.97},{"station":"CVPW2","time":"2019-08-12T23:54Z","temp":64.64},{"station":"CVPW2","time":"2019-08-13T00:00Z","temp":64.96},{"station":"CVPW2","time":"2019-08-13T00:10Z","temp":64.82},{"station":"CVPW2","time":"2019-08-13T00:20Z","temp":64.6},
{"station":"CVPW2","time":"2019-08-13T00:30Z","temp":64.6},{"station":"CVPW2","time":"2019-08-13T00:40Z","temp":64.68},{"station":"CVPW2","time":"2019-08-13T00:50Z","temp":64.47},{"station":"CVPW2","time":"2019-08-13T01:00Z","temp":64.26},{"station":"CVPW2","time":"2019-08-13T01:10Z","temp":64.0},{"station":"CVPW2","time":"2019-08-13T01:20Z","temp":63.87},
{"station":"CVPW2","time":"2019-08-13T01:30Z","temp":63.84},{"station":"CVPW2","time":"2019-08-13T01:40Z","temp":63.84},{"station":"CVPW2","time":"2019-08-13T01:50Z","temp":63.7},{"station":"CVPW2","time":"2019-08-13T02:00Z","temp":63.84},{"station":"CVPW2","time":"2019-08-13T02:10Z","temp":63.87},{"station":"CVPW2","time":"2019-08-13T02:20Z","temp":64.19},
{"station":"CVPW2","time":"2019-08-13T02:30Z","temp":64.05},{"station":"CVPW2","time":"2019-08-13T02:40Z","temp":63.98},{"station":"CVPW2","time":"2019-08-13T02:50Z","temp":63.95},{"station":"CVPW2","time":"2019-08-13T03:00Z","temp":63.87},{"station":"CVPW2","time":"2019-08-13T03:10Z","temp":63.84},{"station":"CVPW2","time":"2019-08-13T03:20Z","temp":63.98},
{"station":"CVPW2","time":"2019-08-13T03:30Z","temp":63.87},{"station":"CVPW2","time":"2019-08-13T03:40Z","temp":63.87},{"station":"CVPW2","time":"2019-08-13T03:50Z","temp":63.81},{"station":"CVPW2","time":"2019-08-13T04:00Z","temp":63.81}
]},
"layer":[
{"data":{"name":"obs"},
 "mark":{"type":"line","strokeWidth":2.3},
 "encoding":{
  "x":{"field":"time","type":"temporal",
   "scale":{"type":"utc","nice":false},
   "axis":{"title":"Date/Time (UTC)","titleFont":"DejaVu Sans","titleFontSize":31,"titleFontWeight":"normal","titleColor":"#000","titlePadding":10,
    "labelFont":"DejaVu Sans","labelFontSize":27,"labelColor":"#000","labelLineHeight":31,"labelPadding":4,"labelOverlap":false,
    "tickCount":24,
    "tickSize":{"condition":{"test":"utchours(datum.value) % 3 === 0","value":7},"value":4},
    "tickColor":"#000","tickWidth":1.3,"domainColor":"#000","domainWidth":1.3,
    "grid":true,"gridColor":"#e6e6e6","gridWidth":1.5,
    "gridOpacity":{"condition":{"test":"utchours(datum.value) % 3 === 0","value":1},"value":0},
    "labelExpr":"utchours(datum.value) % 3 === 0 ? [utcFormat(datum.value, '%b %d'), utcFormat(datum.value, '%H:%M')] : ''"}},
  "y":{"field":"temp","type":"quantitative",
   "scale":{"domain":[51.86,82.51],"nice":false,"zero":false},
   "axis":{"title":"Temperature (F)","titleFont":"DejaVu Sans","titleFontSize":31,"titleFontWeight":"normal","titleColor":"#000","titlePadding":12,
    "values":[55,60,65,70,75,80],"labelFont":"DejaVu Sans","labelFontSize":27,"labelColor":"#000","labelPadding":6,
    "tickSize":7,"tickColor":"#000","tickWidth":1.3,"domainColor":"#000","domainWidth":1.3,
    "grid":true,"gridColor":"#e6e6e6","gridWidth":1.5}},
  "color":{"field":"station","type":"nominal",
   "scale":{"domain":["DY007","DY003","DY002","CVPW2"],"range":["#1f77b4","#ff7f0e","#2ca02c","#d62728"]},
   "legend":{"title":null,"orient":"none","legendX":1090,"legendY":14,"direction":"vertical",
    "symbolType":"M-1,0H3","symbolSize":841,"symbolStrokeWidth":2.3,
    "labelFont":"DejaVu Sans","labelFontSize":27,"labelColor":"#000","labelOffset":48,
    "labelExpr":"datum.label + '\u00a0\u00a0'",
    "rowPadding":11,"padding":8,"strokeColor":"#d0d0d0","fillColor":"rgba(255,255,255,0.85)","cornerRadius":5}}
 }},
{"data":{"values":[{"note":"Canaan Valley Refuge 3150'","time":"2019-08-12T04:22Z","temp":80.6}]},
 "mark":{"type":"text","font":"Roboto","fontSize":30.7,"color":"#1f83e6","align":"left","baseline":"alphabetic"},
 "encoding":{"x":{"field":"time","type":"temporal"},"y":{"field":"temp","type":"quantitative"},"text":{"field":"note"}}},
{"data":{"values":[{"note":"Cabin Mt/Sods 4035'","time":"2019-08-12T04:22Z","temp":79.09}]},
 "mark":{"type":"text","font":"Roboto","fontSize":31.5,"color":"#f59c1a","align":"left","baseline":"alphabetic"},
 "encoding":{"x":{"field":"time","type":"temporal"},"y":{"field":"temp","type":"quantitative"},"text":{"field":"note"}}},
{"data":{"values":[{"note":"Cabin Mt/Bald Knob 4350'","time":"2019-08-12T04:23Z","temp":77.53}]},
 "mark":{"type":"text","font":"Roboto","fontSize":33.8,"color":"#3b8b35","align":"left","baseline":"alphabetic"},
 "encoding":{"x":{"field":"time","type":"temporal"},"y":{"field":"temp","type":"quantitative"},"text":{"field":"note"}}},
{"data":{"values":[{"note":"CRN-Canaan 3479'","time":"2019-08-12T04:23Z","temp":75.78}]},
 "mark":{"type":"text","font":"Roboto","fontSize":35.3,"color":"#a80d0d","align":"left","baseline":"alphabetic"},
 "encoding":{"x":{"field":"time","type":"temporal"},"y":{"field":"temp","type":"quantitative"},"text":{"field":"note"}}}
]
}
